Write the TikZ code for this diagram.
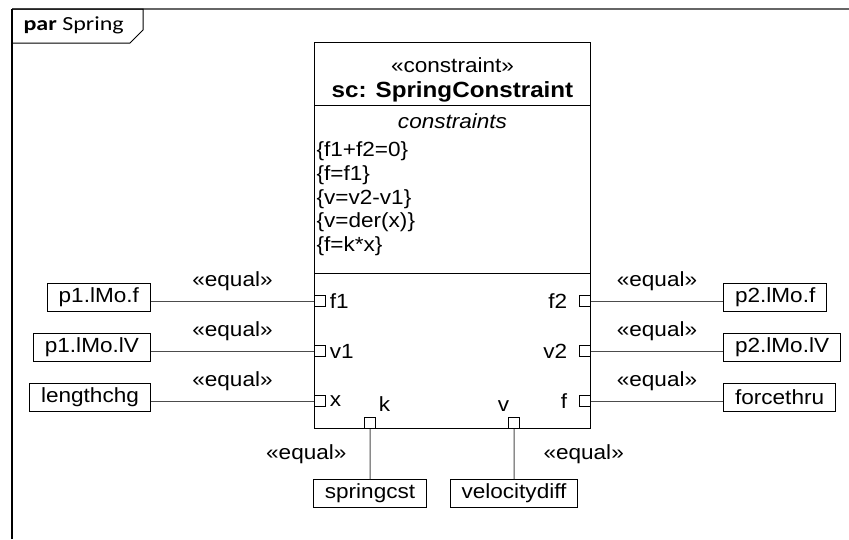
\documentclass[tikz,border=0pt]{standalone}
\usepackage{fontspec}
\setmainfont{Liberation Sans}
\newfontfamily\framefont{Carlito}
\usetikzlibrary{positioning}

\tikzset{
  wide/.style={xscale=1.1, inner sep=1pt},
  part/.style={draw, wide, inner xsep=10.5pt, inner ysep=0pt, minimum height=28pt},
  port/.style={draw, fill=white, minimum size=11pt, inner sep=0pt},
  pin/.style={wide, inner sep=2pt},
  bind/.style={draw=black!70},
  eq/.style={wide, inner sep=0pt}
}

\begin{document}
\begin{tikzpicture}[x=1pt, y=-1pt, font=\fontsize{20.5}{24}\selectfont, line width=1pt]
  \useasboundingbox (0,0) rectangle (849,539);

  % frame
  \draw[black!60, line width=1.3pt] (12,9) -- (849,9);
  \draw[line width=1.5pt] (12,539) -- (12,9);
  \draw (12,9) -- (143,9) -- (143,30) -- (130,43) -- (12,43);
  \node[xscale=1.2, anchor=base west, inner sep=0pt, font=\framefont\fontsize{20}{22}\selectfont] (frm) at (23,30) {\textbf{par} Spring};

  % constraint block
  \node[draw, anchor=north west, minimum width=276pt, minimum height=386pt, inner sep=0pt] (sc) at (314,42) {};
  \draw (sc.west |- 0,105) -- (sc.east |- 0,105);
  \draw (sc.west |- 0,273) -- (sc.east |- 0,273);
  \node[wide, anchor=base] (ster) at (sc.north |- 0,72) {«constraint»};
  \node[wide, anchor=base, font=\fontsize{22}{25}\selectfont] (name) at (sc.north |- 0,97) {\textbf{sc: SpringConstraint}};
  \node[wide, anchor=base] (comp) at (sc.north |- 0,128) {\textit{constraints}};
  \node[wide, anchor=base west] (c1) at (315,156) {\{f1+f2=0\}};
  \node[wide, anchor=base west] (c2) at (315,180) {\{f=f1\}};
  \node[wide, anchor=base west] (c3) at (315,204) {\{v=v2-v1\}};
  \node[wide, anchor=base west] (c4) at (315,227) {\{v=der(x)\}};
  \node[wide, anchor=base west] (c5) at (315,251) {\{f=k*x\}};

  % ports
  \node[port, anchor=west] (pf1) at (sc.west |- 0,301) {};
  \node[port, anchor=west] (pv1) at (sc.west |- 0,351) {};
  \node[port, anchor=west] (px) at (sc.west |- 0,401) {};
  \node[port, anchor=east] (pf2) at (sc.east |- 0,301) {};
  \node[port, anchor=east] (pv2) at (sc.east |- 0,351) {};
  \node[port, anchor=east] (pf) at (sc.east |- 0,401) {};
  \node[port, anchor=south] (pk) at (sc.south -| 370,0) {};
  \node[port, anchor=south] (pv) at (sc.south -| 514,0) {};

  \node[pin, anchor=west] (nf1) at ([xshift=1pt]pf1.east) {f1};
  \node[pin, anchor=west] (nv1) at ([xshift=1pt]pv1.east) {v1};
  \node[pin, anchor=west] (nx) at ([xshift=1pt]px.east) {x};
  \node[pin, anchor=east] (nf2) at ([xshift=-9pt]pf2.west) {f2};
  \node[pin, anchor=east] (nv2) at ([xshift=-9pt]pv2.west) {v2};
  \node[pin, anchor=east] (nf) at ([xshift=-9pt]pf.west) {f};
  \node[pin, anchor=south west] (nk) at ([yshift=3pt]pk.north east) {k};
  \node[pin, anchor=south east] (nv) at ([xshift=4pt, yshift=3pt]pv.north west) {v};

  % parts
  \node[part, anchor=east] (lf1) at (151,297) {p1.lMo.f};
  \node[part, anchor=east] (lv1) at (151,347) {p1.lMo.lV};
  \node[part, anchor=east] (len) at (151,397) {lengthchg};
  \node[part, anchor=west] (lf2) at (723,297) {p2.lMo.f};
  \node[part, anchor=west] (lv2) at (723,347) {p2.lMo.lV};
  \node[part, anchor=west] (frc) at (723,397) {forcethru};
  \node[part, anchor=north] (spr) at (370,479) {springcst};
  \node[part, anchor=north] (vel) at (514,479) {velocitydiff};

  % bindings
  \draw[bind] (lf1.east |- pf1) -- (pf1) node[eq, midway, above=10pt] {«equal»};
  \draw[bind] (lv1.east |- pv1) -- (pv1) node[eq, midway, above=10pt] {«equal»};
  \draw[bind] (len.east |- px) -- (px) node[eq, midway, above=10pt] {«equal»};
  \draw[bind] (pf2) -- (lf2.west |- pf2) node[eq, midway, above=10pt] {«equal»};
  \draw[bind] (pv2) -- (lv2.west |- pv2) node[eq, midway, above=10pt] {«equal»};
  \draw[bind] (pf) -- (frc.west |- pf) node[eq, midway, above=10pt] {«equal»};
  \draw[bind] (pk) -- (spr) node[eq, midway, left=23pt] {«equal»};
  \draw[bind] (pv) -- (vel) node[eq, midway, right=29pt] {«equal»};
\end{tikzpicture}
\end{document}
